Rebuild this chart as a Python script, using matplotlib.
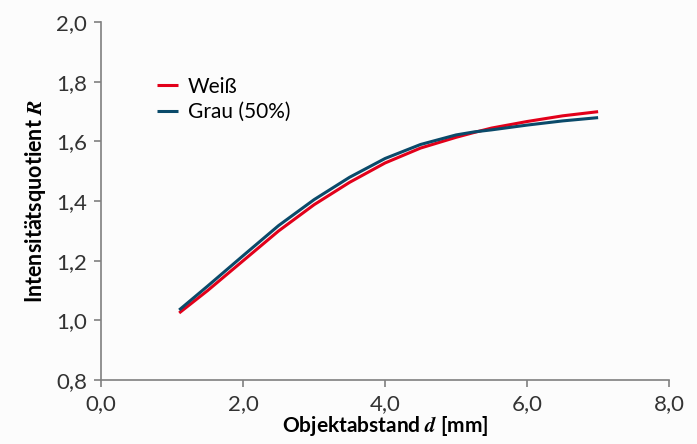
import matplotlib
matplotlib.use('Agg')
import matplotlib.pyplot as plt
from matplotlib.ticker import FuncFormatter

# Werte
d_mm = [1.1, 1.5, 2.0, 2.5, 3.0, 3.5, 4.0, 4.5, 5.0, 5.25, 5.5, 6.0, 6.5, 7.0]
r_weiss = [1.025, 1.10, 1.20, 1.30, 1.388, 1.463, 1.528, 1.578, 1.614, 1.630, 1.645, 1.667, 1.686, 1.700]
r_grau = [1.035, 1.115, 1.217, 1.318, 1.405, 1.480, 1.543, 1.590, 1.622, 1.632, 1.639, 1.655, 1.669, 1.680]

x_ticks = [0, 2, 4, 6, 8]
y_ticks = [0.8, 1.0, 1.2, 1.4, 1.6, 1.8, 2.0]

plt.rcParams['font.family'] = ['Lato', 'DejaVu Sans']
plt.rcParams['mathtext.fontset'] = 'stix'

fig = plt.figure(figsize=(6.97, 4.44), dpi=100)
fig.patch.set_facecolor('#fcfcfc')
ax = fig.add_axes([0.145, 0.144, 0.815, 0.806])
ax.set_facecolor('#fcfcfc')

ax.plot(d_mm, r_weiss, color='#e2001a', lw=2.2, label='Weiß', solid_capstyle='butt')
ax.plot(d_mm, r_grau, color='#0a4a6a', lw=2.2, label='Grau (50%)', solid_capstyle='butt')

ax.set_xlim(0, 8)
ax.set_ylim(0.8, 2.0)
ax.set_xticks(x_ticks)
ax.set_yticks(y_ticks)
comma = FuncFormatter(lambda v, p: f"{v:.1f}".replace('.', ','))
ax.xaxis.set_major_formatter(comma)
ax.yaxis.set_major_formatter(comma)

for s in ['top', 'right']:
    ax.spines[s].set_visible(False)
for s in ['left', 'bottom']:
    ax.spines[s].set_color('#808080')
    ax.spines[s].set_linewidth(1.2)
ax.tick_params(direction='out', length=5, width=1.2, color='#808080',
               labelsize=16, labelcolor='#333333', pad=5)

ax.set_xlabel(r'Objektabstand $\mathbfit{d}$ [mm]', fontsize=15, fontweight='bold', labelpad=0)
ax.set_ylabel(r'Intensitätsquotient $\mathbfit{R}$', fontsize=15.5, fontweight='bold', labelpad=6)

ax.legend(loc='upper left', bbox_to_anchor=(0.065, 0.90), frameon=False, fontsize=15,
          handlelength=1.0, handletextpad=0.5, labelspacing=0.25)

plt.savefig('out.png', dpi=100, facecolor=fig.get_facecolor())
plt.close()
